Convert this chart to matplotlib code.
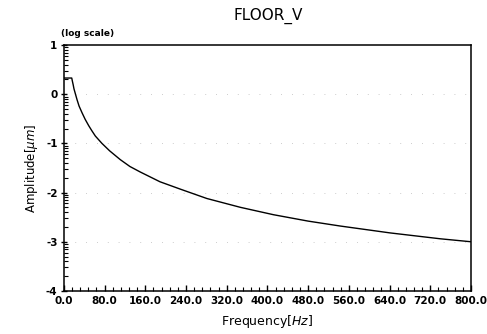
import numpy as np
import matplotlib
matplotlib.use("Agg")
import matplotlib.pyplot as plt
from matplotlib.ticker import FixedLocator, MultipleLocator

# Data (log10 of amplitude in micrometres)
freq_hz = [0, 15.6, 17, 18.5, 20, 23, 26, 30, 36, 42, 49, 55, 62, 75, 90, 111,
           130, 150, 189, 229, 281, 347, 412, 480, 543, 641, 740, 800]
log_amp = [0.33, 0.33, 0.26, 0.19, 0.11, 0.0, -0.11, -0.24, -0.38, -0.51,
           -0.64, -0.74, -0.85, -1.0, -1.15, -1.33, -1.47, -1.58, -1.78, -1.93,
           -2.12, -2.30, -2.45, -2.58, -2.68, -2.82, -2.94, -3.0]

x_ticks = [0, 80, 160, 240, 320, 400, 480, 560, 640, 720, 800]
x_tick_labels = ["0.0", "80.0", "160.0", "240.0", "320.0", "400.0", "480.0",
                 "560.0", "640.0", "720.0", "800.0"]
y_ticks = [-4, -3, -2, -1, 0, 1]
y_tick_labels = ["-4", "-3", "-2", "-1", "0", "1"]

fig = plt.figure(figsize=(4.87, 3.34), dpi=100)
ax = fig.add_axes([0.131, 0.129, 0.836, 0.736])

ax.plot(freq_hz, log_amp, color="black", lw=1.0)

# faint dotted grid at major y levels (as in the scan)
for yv in y_ticks[1:-1]:
    ax.axhline(yv, color="#bbbbbb", lw=0.6, ls=(0, (1, 12)), zorder=0)

ax.set_xlim(0, 800)
ax.set_ylim(-4, 1)
ax.set_xticks(x_ticks)
ax.set_xticklabels(x_tick_labels)
ax.set_yticks(y_ticks)
ax.set_yticklabels(y_tick_labels)
ax.xaxis.set_minor_locator(MultipleLocator(16))
minor_y = [d + np.log10(k) for d in range(-4, 1) for k in range(2, 10)]
ax.yaxis.set_minor_locator(FixedLocator(minor_y))

ax.tick_params(axis="both", which="major", direction="inout", length=5,
               width=1.0, labelsize=7.5, pad=2)
ax.tick_params(axis="both", which="minor", direction="in", length=3, width=0.8)
ax.tick_params(axis="x", which="major", direction="in", length=4, pad=4)
for lab in ax.get_xticklabels() + ax.get_yticklabels():
    lab.set_fontweight("bold")

for sp in ax.spines.values():
    sp.set_linewidth(1.1)

fig.text(0.55, 0.952, "FLOOR_V", ha="center", va="center", fontsize=11)
fig.text(0.125, 0.9, "(log scale)", ha="left", va="center", fontsize=6.5,
         fontweight="bold")
ax.set_xlabel("Frequency$[Hz]$", fontsize=9, labelpad=5)
ax.set_ylabel("Amplitude$[\\mu m]$", fontsize=8.5, labelpad=4)

fig.savefig("out.png", dpi=100)
